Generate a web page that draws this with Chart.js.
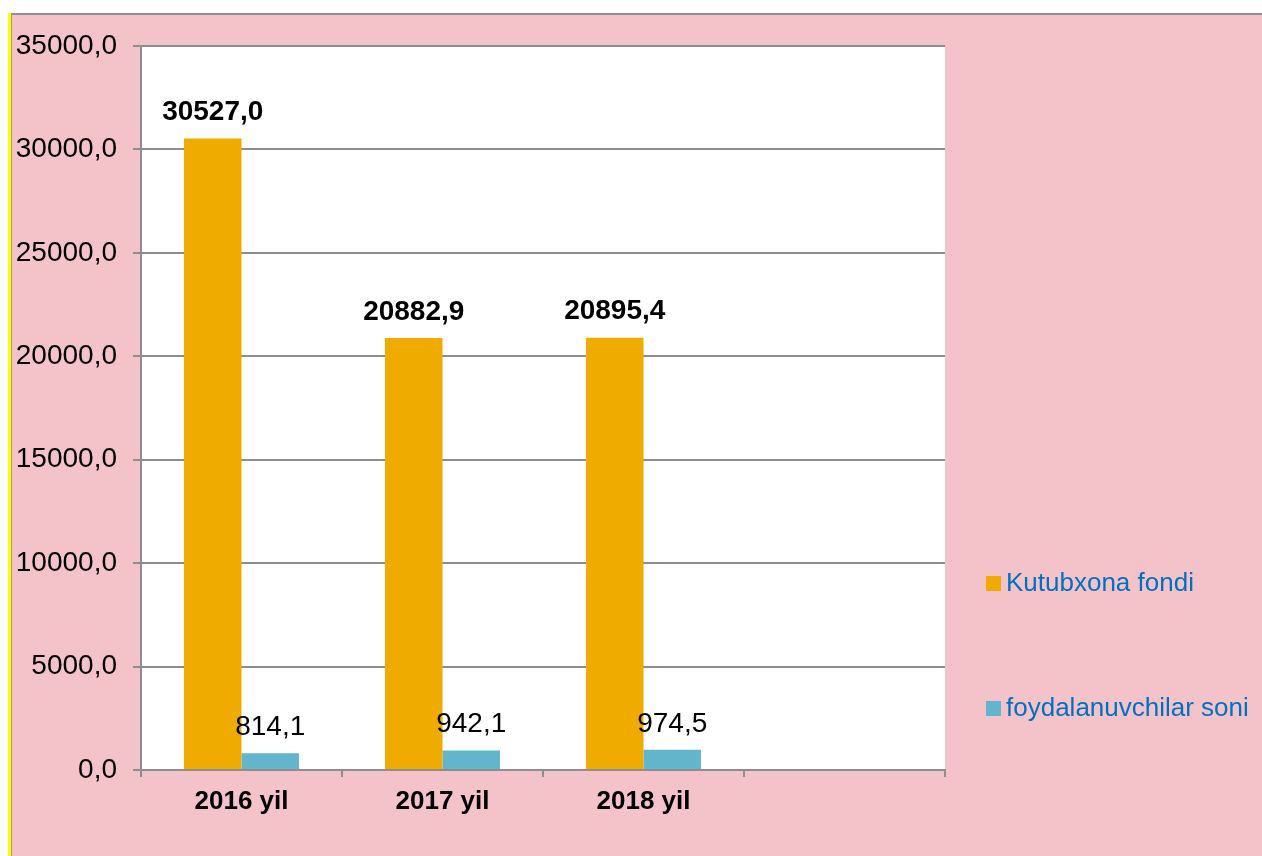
<!DOCTYPE html>
<html>
<head>
<meta charset="utf-8">
<script src="https://cdn.jsdelivr.net/npm/chart.js@4.4.0/dist/chart.umd.min.js"></script>
<style>
html,body{margin:0;padding:0;background:#fff;}
#wrap{width:1262px;height:856px;position:relative;}
</style>
</head>
<body>
<div id="wrap"><canvas id="c" width="1262" height="856"></canvas></div>
<script>
const categories = ["2016 yil", "2017 yil", "2018 yil", ""];
const seriesNames = ["Kutubxona fondi", "foydalanuvchilar soni"];
const kutubxonaFondi = [30527.0, 20882.9, 20895.4, null];
const foydalanuvchilarSoni = [814.1, 942.1, 974.5, null];
const yTicks = [0, 5000, 10000, 15000, 20000, 25000, 30000, 35000];

const ORANGE = '#F0AB00', BLUE = '#63B5CE', PINK = '#F4C3CA', GRID = '#8E8E8E';
const FONT = '"Liberation Sans", Arial, sans-serif';
const fmt = v => v.toFixed(1).replace('.', ',');

const bgPlugin = {
  id: 'bg',
  beforeDraw(chart) {
    const ctx = chart.ctx, a = chart.chartArea;
    ctx.save();
    ctx.fillStyle = '#fff';
    ctx.fillRect(0, 0, chart.width, chart.height);
    ctx.fillStyle = PINK;
    ctx.fillRect(11, 13, chart.width - 11, chart.height - 13);
    ctx.fillStyle = '#8E8E8E';
    ctx.fillRect(11, 13, chart.width - 11, 2);
    ctx.fillStyle = '#FFFF00';
    ctx.fillRect(8, 13, 3, chart.height - 13);
    ctx.fillStyle = '#9a9a9a';
    ctx.fillRect(11, 13, 1, chart.height - 13);
    ctx.fillStyle = '#fff';
    ctx.fillRect(a.left, a.top, a.right - a.left, a.bottom - a.top);
    ctx.restore();
  }
};

const labelPlugin = {
  id: 'vlabels',
  afterDatasetsDraw(chart) {
    const ctx = chart.ctx;
    ctx.save();
    ctx.textAlign = 'center';
    ctx.textBaseline = 'middle';
    ctx.fillStyle = '#000';
    chart.data.datasets.forEach((ds, i) => {
      ctx.font = (i === 0 ? 'bold ' : '') + '28px ' + FONT;
      chart.getDatasetMeta(i).data.forEach((el, j) => {
        const v = ds.data[j];
        if (v == null) return;
        ctx.fillText(fmt(v), el.x, el.y - 26);
      });
    });
    ctx.restore();
  }
};

const legendPlugin = {
  id: 'customLegend',
  afterDraw(chart) {
    const ctx = chart.ctx;
    const ys = [583, 708];
    ctx.save();
    ctx.textBaseline = 'middle';
    ctx.textAlign = 'left';
    ctx.font = '26px ' + FONT;
    chart.data.datasets.forEach((ds, i) => {
      ctx.fillStyle = ds.backgroundColor;
      ctx.fillRect(986, ys[i] - 7, 15, 15);
      ctx.fillStyle = '#0070C0';
      ctx.fillText(ds.label, 1006, ys[i] + 1);
    });
    ctx.restore();
  }
};

new Chart(document.getElementById('c'), {
  type: 'bar',
  data: {
    labels: categories,
    datasets: [
      { label: seriesNames[0], data: kutubxonaFondi, backgroundColor: ORANGE, categoryPercentage: 0.572, barPercentage: 1.0 },
      { label: seriesNames[1], data: foydalanuvchilarSoni, backgroundColor: BLUE, categoryPercentage: 0.572, barPercentage: 1.0 }
    ]
  },
  options: {
    responsive: false,
    animation: false,
    devicePixelRatio: 1,
    layout: { padding: { left: 0, right: 317, top: 46, bottom: 0 } },
    plugins: { legend: { display: false }, tooltip: { enabled: false } },
    scales: {
      x: {
        offset: true,
        afterFit: s => { s.height = 86; },
        grid: { display: true, offset: true, drawOnChartArea: false, drawTicks: true, tickLength: 7, color: GRID, lineWidth: 2 },
        border: { display: true, color: GRID, width: 2 },
        ticks: { color: '#000', font: { family: FONT, size: 26, weight: 'bold' }, padding: 9, maxRotation: 0 }
      },
      y: {
        min: 0, max: 35000,
        afterFit: s => { s.width = 141; },
        afterBuildTicks: s => { s.ticks = yTicks.map(v => ({ value: v })); },
        grid: { color: GRID, lineWidth: 2, drawTicks: true, tickLength: 8 },
        border: { display: true, color: GRID, width: 2 },
        ticks: { color: '#000', font: { family: FONT, size: 28 }, padding: 16, callback: v => fmt(v) }
      }
    }
  },
  plugins: [bgPlugin, labelPlugin, legendPlugin]
});
</script>
</body>
</html>
